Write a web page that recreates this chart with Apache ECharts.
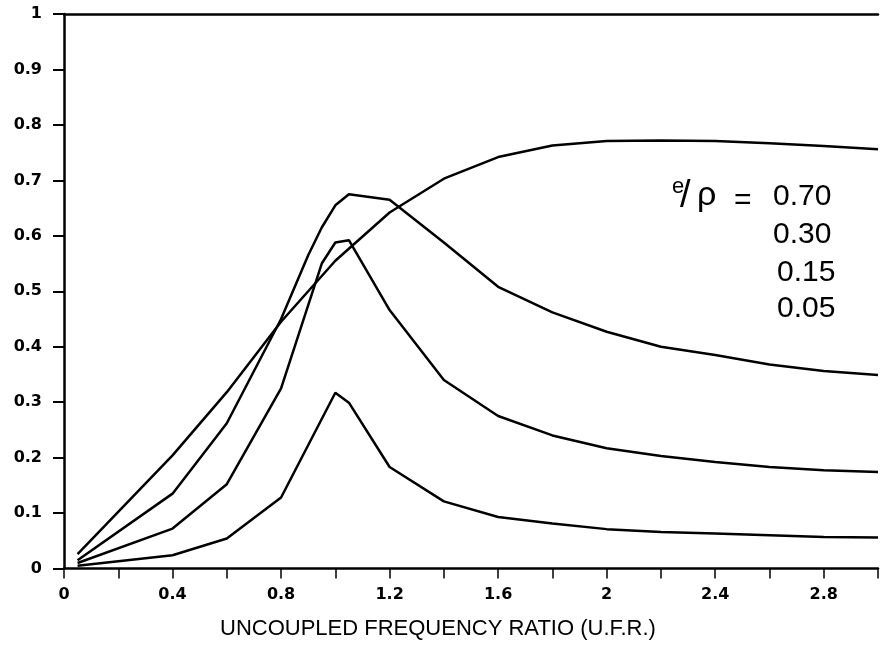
<!DOCTYPE html>
<html>
<head>
<meta charset="utf-8">
<script src="https://cdn.jsdelivr.net/npm/echarts@6/dist/echarts.min.js"></script>
<style>html,body{margin:0;padding:0;background:#fff}#c{width:881px;height:648px}</style>
</head>
<body>
<div id="c"></div>
<script>
// e/rho = 0.70
const x070 = [0.05, 0.4, 0.6, 0.8, 1.0, 1.2, 1.4, 1.6, 1.8, 2.0, 2.2, 2.4, 2.6, 2.8, 3.0];
const y070 = [0.026, 0.204, 0.318, 0.445, 0.555, 0.642, 0.703, 0.742, 0.763, 0.771, 0.772, 0.771, 0.767, 0.762, 0.756];
// e/rho = 0.30
const x030 = [0.05, 0.4, 0.6, 0.8, 0.9, 0.95, 1.0, 1.05, 1.2, 1.4, 1.6, 1.8, 2.0, 2.2, 2.4, 2.6, 2.8, 3.0];
const y030 = [0.015, 0.135, 0.262, 0.45, 0.565, 0.615, 0.655, 0.675, 0.665, 0.588, 0.508, 0.462, 0.427, 0.40, 0.385, 0.368, 0.356, 0.349];
// e/rho = 0.15
const x015 = [0.05, 0.4, 0.6, 0.8, 0.95, 1.0, 1.05, 1.2, 1.4, 1.6, 1.8, 2.0, 2.2, 2.4, 2.6, 2.8, 3.0];
const y015 = [0.01, 0.072, 0.152, 0.325, 0.55, 0.588, 0.592, 0.466, 0.34, 0.275, 0.24, 0.217, 0.203, 0.192, 0.183, 0.177, 0.174];
// e/rho = 0.05
const x005 = [0.05, 0.4, 0.6, 0.8, 1.0, 1.05, 1.2, 1.4, 1.6, 1.8, 2.0, 2.2, 2.4, 2.6, 2.8, 3.0];
const y005 = [0.005, 0.024, 0.054, 0.128, 0.317, 0.299, 0.183, 0.121, 0.093, 0.081, 0.071, 0.066, 0.063, 0.060, 0.057, 0.056];

const legendValues = ['0.70', '0.30', '0.15', '0.05'];
const xTitle = 'UNCOUPLED FREQUENCY RATIO (U.F.R.)';

function zip(xs, ys) { return xs.map((x, i) => [x, ys[i]]); }

const chart = echarts.init(document.getElementById('c'), null, { renderer: 'canvas' });
const lineStyle = { color: '#000', width: 2.5 };
const mk = (name, xs, ys) => ({
  type: 'line', name, data: zip(xs, ys), symbol: 'none', smooth: false,
  lineStyle, xAxisIndex: 0, yAxisIndex: 0, animation: false
});
const labelFont = { fontFamily: 'DejaVu Sans', fontWeight: 'bold', fontSize: 16, color: '#000' };
const annFont = 'Liberation Sans';

chart.setOption({
  backgroundColor: '#fff',
  animation: false,
  grid: { left: 64, right: -5, top: 14, bottom: 79.5 },
  xAxis: [{
    type: 'value', min: 0, max: 3.0, interval: 0.2, position: 'bottom',
    axisLine: { show: true, onZero: false, lineStyle: { color: '#000', width: 2.5 } },
    axisTick: { show: true, inside: false, length: 10, lineStyle: { color: '#000', width: 1.5 } },
    splitLine: { show: false },
    axisLabel: Object.assign({}, labelFont, {
      margin: 18,
      formatter: v => {
        const k = Math.round(v * 10);
        return (k % 4 === 0 && k < 30) ? String(k / 10) : '';
      }
    })
  }, {
    type: 'value', min: 0, max: 3.0, position: 'top',
    axisLine: { show: true, onZero: false, lineStyle: { color: '#000', width: 2.5 } },
    axisTick: { show: false }, axisLabel: { show: false }, splitLine: { show: false }
  }],
  yAxis: [{
    type: 'value', min: 0, max: 1, interval: 0.1,
    axisLine: { show: true, onZero: false, lineStyle: { color: '#000', width: 2.5 } },
    axisTick: { show: true, inside: false, length: 11, lineStyle: { color: '#000', width: 2 } },
    splitLine: { show: false },
    axisLabel: Object.assign({}, labelFont, {
      margin: 22,
      formatter: v => String(Math.round(v * 10) / 10)
    })
  }],
  series: [
    mk('0.70', x070, y070),
    mk('0.30', x030, y030),
    mk('0.15', x015, y015),
    mk('0.05', x005, y005)
  ],
  graphic: [
    { type: 'text', left: 220, top: 618, style: { text: xTitle, fontFamily: annFont, fontSize: 22, fill: '#000' } },
    { type: 'text', left: 672, top: 176, style: { text: 'e', fontFamily: annFont, fontSize: 22, fill: '#000' } },
    { type: 'text', left: 680, top: 178, style: { text: '/', fontFamily: annFont, fontSize: 38, fill: '#000' } },
    { type: 'text', left: 697, top: 179, style: { text: 'ρ', fontFamily: annFont, fontSize: 34, fill: '#000' } },
    { type: 'text', left: 734, top: 186, style: { text: '=', fontFamily: annFont, fontSize: 30, fill: '#000' } },
    { type: 'text', left: 773, top: 182, style: { text: legendValues[0], fontFamily: annFont, fontSize: 30, fill: '#000' } },
    { type: 'text', left: 773, top: 220, style: { text: legendValues[1], fontFamily: annFont, fontSize: 30, fill: '#000' } },
    { type: 'text', left: 777, top: 258, style: { text: legendValues[2], fontFamily: annFont, fontSize: 30, fill: '#000' } },
    { type: 'text', left: 777, top: 294, style: { text: legendValues[3], fontFamily: annFont, fontSize: 30, fill: '#000' } }
  ]
});
</script>
</body>
</html>
